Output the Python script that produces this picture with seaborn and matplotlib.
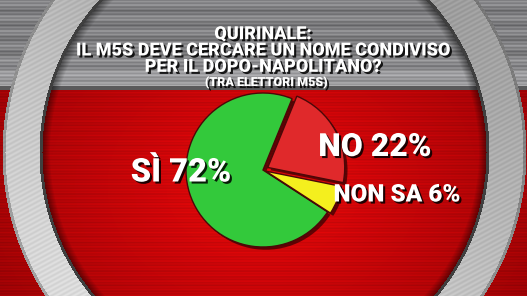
import numpy as np
import matplotlib
matplotlib.use('Agg')
import matplotlib.pyplot as plt
import matplotlib.patheffects as pe
import seaborn as sns

categories = ['SÌ', 'NO', 'NON SA']
values = [72, 22, 6]
colors = ['#33c93b', '#e0292b', '#f4ef1e']
explode = [0.0, 0.07, 0.04]
title_lines = ['QUIRINALE:', 'IL M5S DEVE CERCARE UN NOME CONDIVISO', 'PER IL DOPO-NAPOLITANO?']
subtitle = '(TRA ELETTORI M5S)'

sns.set_style('white')
plt.rcParams['font.family'] = ['Roboto', 'DejaVu Sans']

W, H = 527, 296
fig = plt.figure(figsize=(W / 100, H / 100), dpi=100)
bg = fig.add_axes([0, 0, 1, 1])

# ---- background (decorative shading) ----
yy, xx = np.mgrid[0:H, 0:W].astype(float)
img = np.zeros((H, W, 3))
d = np.hypot((xx - 263) / 270, (yy - 185) / 210)
lum = np.clip(1 - 0.6 * d, 0, 1)
stripes = 0.035 * np.sin(yy * 2.2) + 0.02 * np.sin(yy * 0.9)
img[..., 0] = 0.46 + 0.45 * lum + stripes
img[..., 1] = 0.0 + 0.03 * lum
img[..., 2] = 0.01 + 0.03 * lum
top = yy < 90
g = 0.50 + 0.06 * np.sin(yy * 1.7) + 0.05 * np.sin(yy * 0.45) + 0.15 * np.clip((yy - 55) / 30, 0, 1) * (yy < 86)
g = np.where(yy > 85, 0.35, g)
for c in range(3):
    img[..., c] = np.where(top, g + (0.01 if c == 2 else 0), img[..., c])
# ring
cx, cy = 264, 152
r = np.hypot(xx - cx, yy - cy)
ring = (r > 222) & (r < 262)
t = 0.6 * (yy - cy) / r - 0.3 * (xx - cx) / r
shade = 0.74 + 0.2 * t + 0.03 * np.sin(xx * 0.7 + yy * 1.3)
shade = np.where(r < 225, 0.25, shade)
shade = np.where(r > 259, shade * 0.75, shade)
for c in range(3):
    img[..., c] = np.where(ring, shade, img[..., c])
inner_shadow = (r > 214) & (r <= 222)
for c in range(3):
    img[..., c] = np.where(inner_shadow, img[..., c] * (0.55 + 0.45 * (222 - r) / 8), img[..., c])
img = np.clip(img, 0, 1)
bg.imshow(img, extent=(0, W, H, 0), interpolation='bilinear')
bg.set_xlim(0, W)
bg.set_ylim(H, 0)
bg.axis('off')

# ---- pie ----
pcx, pcy, S, R = 263, 170, 95, 77
pax = fig.add_axes([(pcx - S) / W, (H - pcy - S) / H, 2 * S / W, 2 * S / H])
wedges, _ = pax.pie(values, colors=colors, startangle=-33, counterclock=False,
                    explode=explode, radius=1.0,
                    wedgeprops=dict(edgecolor='#4a0808', linewidth=1.0))
for w in wedges:
    w.set_path_effects([pe.SimplePatchShadow(offset=(2, -2), shadow_rgbFace='black', alpha=0.55), pe.Normal()])
lim = S / R
pax.set_xlim(-lim, lim)
pax.set_ylim(-lim, lim)
pax.set_aspect('equal')
pax.axis('off')

# ---- text overlay ----
tx = fig.add_axes([0, 0, 1, 1])
tx.set_xlim(0, W)
tx.set_ylim(H, 0)
tx.axis('off')
tx.patch.set_alpha(0)

shadow = [pe.SimplePatchShadow(offset=(1.5, -1.5), shadow_rgbFace='black', alpha=0.85), pe.Normal()]

def label(x, y, s, size, va='baseline', **kw):
    tx.text(x, y, s, ha='center', va=va, color='white', fontsize=size,
            fontweight='black', path_effects=shadow, **kw)

label(263, 50.5, '\n'.join(title_lines), 13, va='center', linespacing=0.88,
      multialignment='center')
label(266, 86, subtitle, 9)

label(181, 181.5, f'{categories[0]} {values[0]}%', 23.5)
label(375, 156, f'{categories[1]} {values[1]}%', 23)
label(397, 201.5, f'{categories[2]} {values[2]}%', 17.5)

fig.savefig('out.png', dpi=100)
